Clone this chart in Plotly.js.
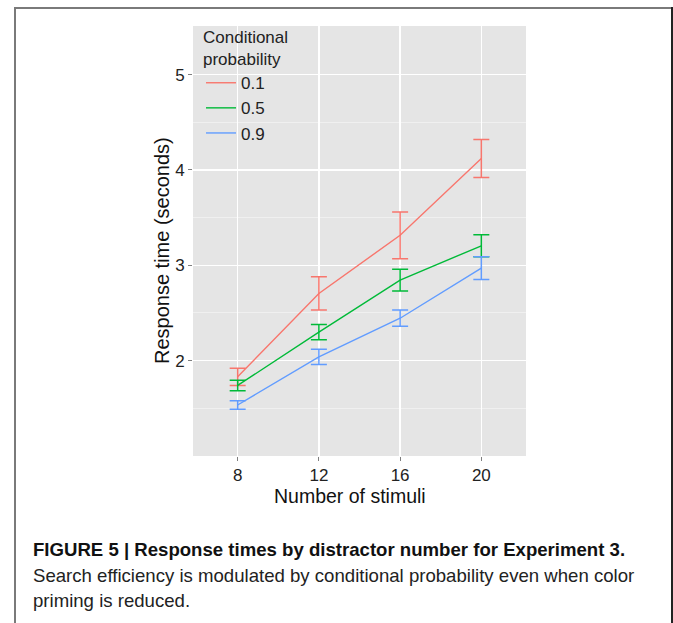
<!DOCTYPE html>
<html>
<head>
<meta charset="utf-8">
<script src="https://cdn.plot.ly/plotly-3.0.1.min.js"></script>
<style>
html,body{margin:0;padding:0;background:#fff;}
#chart{width:673px;height:623px;}
</style>
</head>
<body>
<div id="chart"></div>
<script>
// ---- data ----
const stimuli = [8, 12, 16, 20];
const xTickLabels = ["8", "12", "16", "20"];
const yTickVals = [2, 3, 4, 5];
const seriesNames = ["0.1", "0.5", "0.9"];
const rt01 = [1.83, 2.705, 3.315, 4.12];
const err01 = [0.09, 0.175, 0.245, 0.2];
const rt05 = [1.74, 2.30, 2.845, 3.205];
const err05 = [0.055, 0.08, 0.115, 0.115];
const rt09 = [1.535, 2.04, 2.445, 2.97];
const err09 = [0.045, 0.08, 0.085, 0.12];
const colors = ["#F8766D", "#00BA38", "#619CFF"];

// ---- layout geometry (pixels) ----
const W = 673, H = 623;
const PL = 193, PR = 526, PT = 26, PB = 456;
const px = x => (x - PL) / (PR - PL);
const py = y => (PB - y) / (PB - PT);

const ys = [rt01, rt05, rt09];
const es = [err01, err05, err09];
const traces = seriesNames.map((n, i) => ({
  type: "scatter", mode: "lines", name: n,
  x: stimuli, y: ys[i],
  line: {color: colors[i], width: 1.4},
  error_y: {type: "data", array: es[i], visible: true, color: colors[i], thickness: 1.5, width: 8}
}));

const baseFont = "Liberation Sans, Arial, sans-serif";
const tickFont = {family: baseFont, size: 17, color: "#222"};

const layout = {
  width: W, height: H,
  margin: {l: PL, r: W - PR, t: PT, b: H - PB, pad: 0},
  paper_bgcolor: "#fff", plot_bgcolor: "#E5E5E5",
  showlegend: true,
  legend: {
    x: px(201), y: py(21), xanchor: "left", yanchor: "top",
    bgcolor: "rgba(0,0,0,0)", borderwidth: 0,
    title: {text: "Conditional<br>probability", font: {family: baseFont, size: 17, color: "#222"}},
    font: {family: baseFont, size: 17, color: "#222"},
    itemwidth: 30, tracegroupgap: 0
  },
  xaxis: {
    range: [5.8, 22.2], tickvals: stimuli, ticktext: xTickLabels,
    showgrid: true, gridcolor: "#FFFFFF", gridwidth: 1.5, zeroline: false,
    ticks: "outside", ticklen: 4, tickcolor: "#7F7F7F", tickwidth: 1,
    tickfont: tickFont, showline: false
  },
  yaxis: {
    range: [1.0, 5.51], tickvals: yTickVals,
    showgrid: true, gridcolor: "#FFFFFF", gridwidth: 1.5, zeroline: false,
    ticks: "outside", ticklen: 4, tickcolor: "#7F7F7F", tickwidth: 1,
    tickfont: tickFont, showline: false,
    minor: {tickvals: [1.5, 2.5, 3.5, 4.5], showgrid: true, gridcolor: "#F2F2F2", gridwidth: 0.8, ticks: ""}
  },
  annotations: [
    {text: "Number of stimuli", xref: "paper", yref: "paper", x: px(350), y: py(496),
     xanchor: "center", yanchor: "middle", showarrow: false,
     font: {family: baseFont, size: 19.5, color: "#111"}},
    {text: "Response time (seconds)", xref: "paper", yref: "paper", x: px(162), y: py(251),
     xanchor: "center", yanchor: "middle", showarrow: false, textangle: -90,
     font: {family: baseFont, size: 20, color: "#111"}},
    {text: "<b>FIGURE 5 | Response times by distractor number for Experiment 3.</b>",
     xref: "paper", yref: "paper", x: px(31), y: py(549), xanchor: "left", yanchor: "middle",
     showarrow: false, font: {family: baseFont, size: 18.6, color: "#111"}},
    {text: "Search efficiency is modulated by conditional probability even when color",
     xref: "paper", yref: "paper", x: px(31), y: py(575), xanchor: "left", yanchor: "middle",
     showarrow: false, font: {family: baseFont, size: 18.6, color: "#222"}},
    {text: "priming is reduced.",
     xref: "paper", yref: "paper", x: px(31), y: py(600), xanchor: "left", yanchor: "middle",
     showarrow: false, font: {family: baseFont, size: 18.6, color: "#222"}}
  ],
  shapes: [
    // legend key background (covers grid, under data)
    {type: "rect", xref: "paper", yref: "paper", layer: "between",
     x0: px(197), x1: px(300), y0: py(146), y1: py(26),
     fillcolor: "#E5E5E5", line: {width: 0}},
    {type: "line", xref: "paper", yref: "paper", x0: px(14), x1: px(673), y0: py(8), y1: py(8),
     line: {color: "#7A7A7A", width: 2}},
    {type: "line", xref: "paper", yref: "paper", x0: px(15), x1: px(15), y0: py(7), y1: py(623),
     line: {color: "#7A7A7A", width: 2}},
    {type: "line", xref: "paper", yref: "paper", x0: px(672), x1: px(672), y0: py(7), y1: py(623),
     line: {color: "#222", width: 2}}
  ]
};

Plotly.newPlot("chart", traces, layout, {staticPlot: true, displayModeBar: false});
</script>
</body>
</html>
